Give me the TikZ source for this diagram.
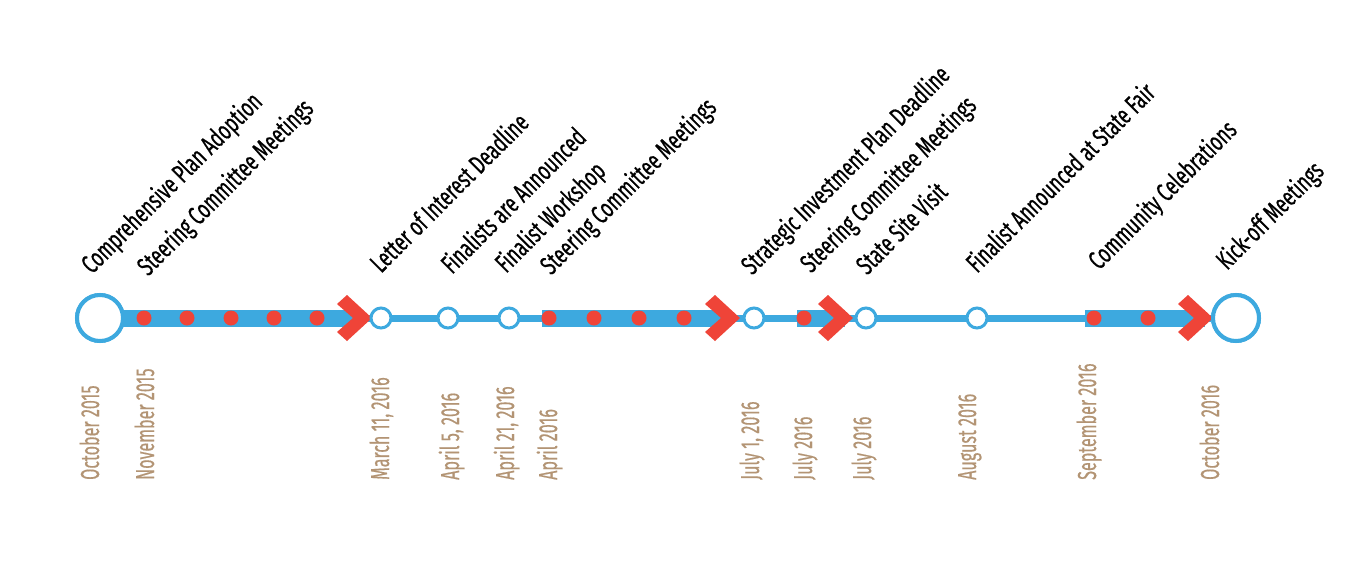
\documentclass[tikz,border=0pt]{standalone}
\usepackage{fontspec}
\setmainfont{Fira Sans}[FakeStretch=0.67,FakeBold=0.6]
\newfontfamily\datefont{Fira Sans}[FakeStretch=0.62,FakeBold=0.4]
\definecolor{tlblue}{HTML}{3DA9DF}
\definecolor{tlred}{HTML}{EF4438}
\definecolor{tltan}{HTML}{B39474}
\begin{document}
\begin{tikzpicture}[x=1pt,y=-1pt,
  bigc/.style={circle,draw=tlblue,line width=4pt,fill=white,minimum size=46pt,inner sep=0},
  smallc/.style={circle,draw=tlblue,line width=3pt,fill=white,minimum size=20pt,inner sep=0},
  thinline/.style={draw=tlblue,line width=7pt},
  thickbar/.style={draw=tlblue,line width=17pt},
  reddot/.style={circle,fill=tlred,minimum size=15pt,inner sep=0},
  evt/.style={rotate=45,anchor=base west,inner sep=0,font=\fontsize{26.5}{26.5}\selectfont,text=black},
  datel/.style={rotate=90,anchor=base west,inner sep=0,font=\datefont\fontsize{26}{26}\selectfont,text=tltan}]
\fill[white] (0,0) rectangle (1368,574);
\useasboundingbox (0,0) rectangle (1368,574);
% milestones
\node[bigc] (m0) at (100,318) {};
\node[bigc] (m12) at (1236,318) {};
\coordinate (b1s) at (123,318); \coordinate (b1e) at (355,318);
\coordinate (b2s) at (542,318); \coordinate (b2e) at (730,318);
\coordinate (b3s) at (797,318); \coordinate (b3e) at (845,318);
\coordinate (b4s) at (1085,318); \coordinate (b4e) at (1205,318);
\draw[thinline] (m0) -- (m12);
\draw[thickbar] (b1s) -- (b1e);
\draw[thickbar] (b2s) -- (b2e);
\draw[thickbar] (b3s) -- (b3e);
\draw[thickbar] (b4s) -- (b4e);
\foreach \i/\x in {1/144,2/187,3/231,4/274,5/317,6/549,7/594,8/639,9/684,10/804,11/1094,12/1148}
  \node[reddot] (d\i) at (\x,318) {};
\foreach \t in {372,740,853,1213}
  \fill[tlred,shift={(\t,318)}] (-35,-14) -- (-25,-23) -- (0,0) -- (-25,23) -- (-35,14) -- (-19,0) -- cycle;
\node[bigc] at (m0) {};
\node[bigc] at (m12) {};
\node[smallc] (m1) at (381,318) {};
\node[smallc] (m2) at (448,318) {};
\node[smallc] (m3) at (509,318) {};
\node[smallc] (m4) at (754,318) {};
\node[smallc] (m5) at (866,318) {};
\node[smallc] (m6) at (977,318) {};
% event labels
\node[evt] (e1) at (92,275) {Comprehensive Plan Adoption};
\node[evt] (e2) at (148,277) {Steering Committee Meetings};
\node[evt] (e3) at (381,274) {Letter of Interest Deadline};
\node[evt] (e4) at (452,275) {Finalists are Announced};
\node[evt] (e5) at (506,274) {Finalist Workshop};
\node[evt] (e6) at (551,276) {Steering Committee Meetings};
\node[evt] (e7) at (752,276) {Strategic Investment Plan Deadline};
\node[evt] (e8) at (811,274) {Steering Committee Meetings};
\node[evt] (e9) at (867,276) {State Site Visit};
\node[evt] (e10) at (977,274) {Finalist Announced at State Fair};
\node[evt] (e11) at (1099,271) {Community Celebrations};
\node[evt] (e12) at (1227,271) {Kick-off Meetings};
% date labels
\node[datel] (t1) at (99,480) {October 2015};
\node[datel] (t2) at (154,480) {November 2015};
\node[datel] (t3) at (389,480) {March 11, 2016};
\node[datel] (t4) at (459,480) {April 5, 2016};
\node[datel] (t5) at (514,480) {April 21, 2016};
\node[datel] (t6) at (557,480) {April 2016};
\node[datel] (t7) at (759,480) {July 1, 2016};
\node[datel] (t8) at (812,480) {July 2016};
\node[datel] (t9) at (871,480) {July 2016};
\node[datel] (t10) at (976,480) {August 2016};
\node[datel] (t11) at (1096,480) {September 2016};
\node[datel] (t12) at (1219,480) {October 2016};
\end{tikzpicture}
\end{document}
